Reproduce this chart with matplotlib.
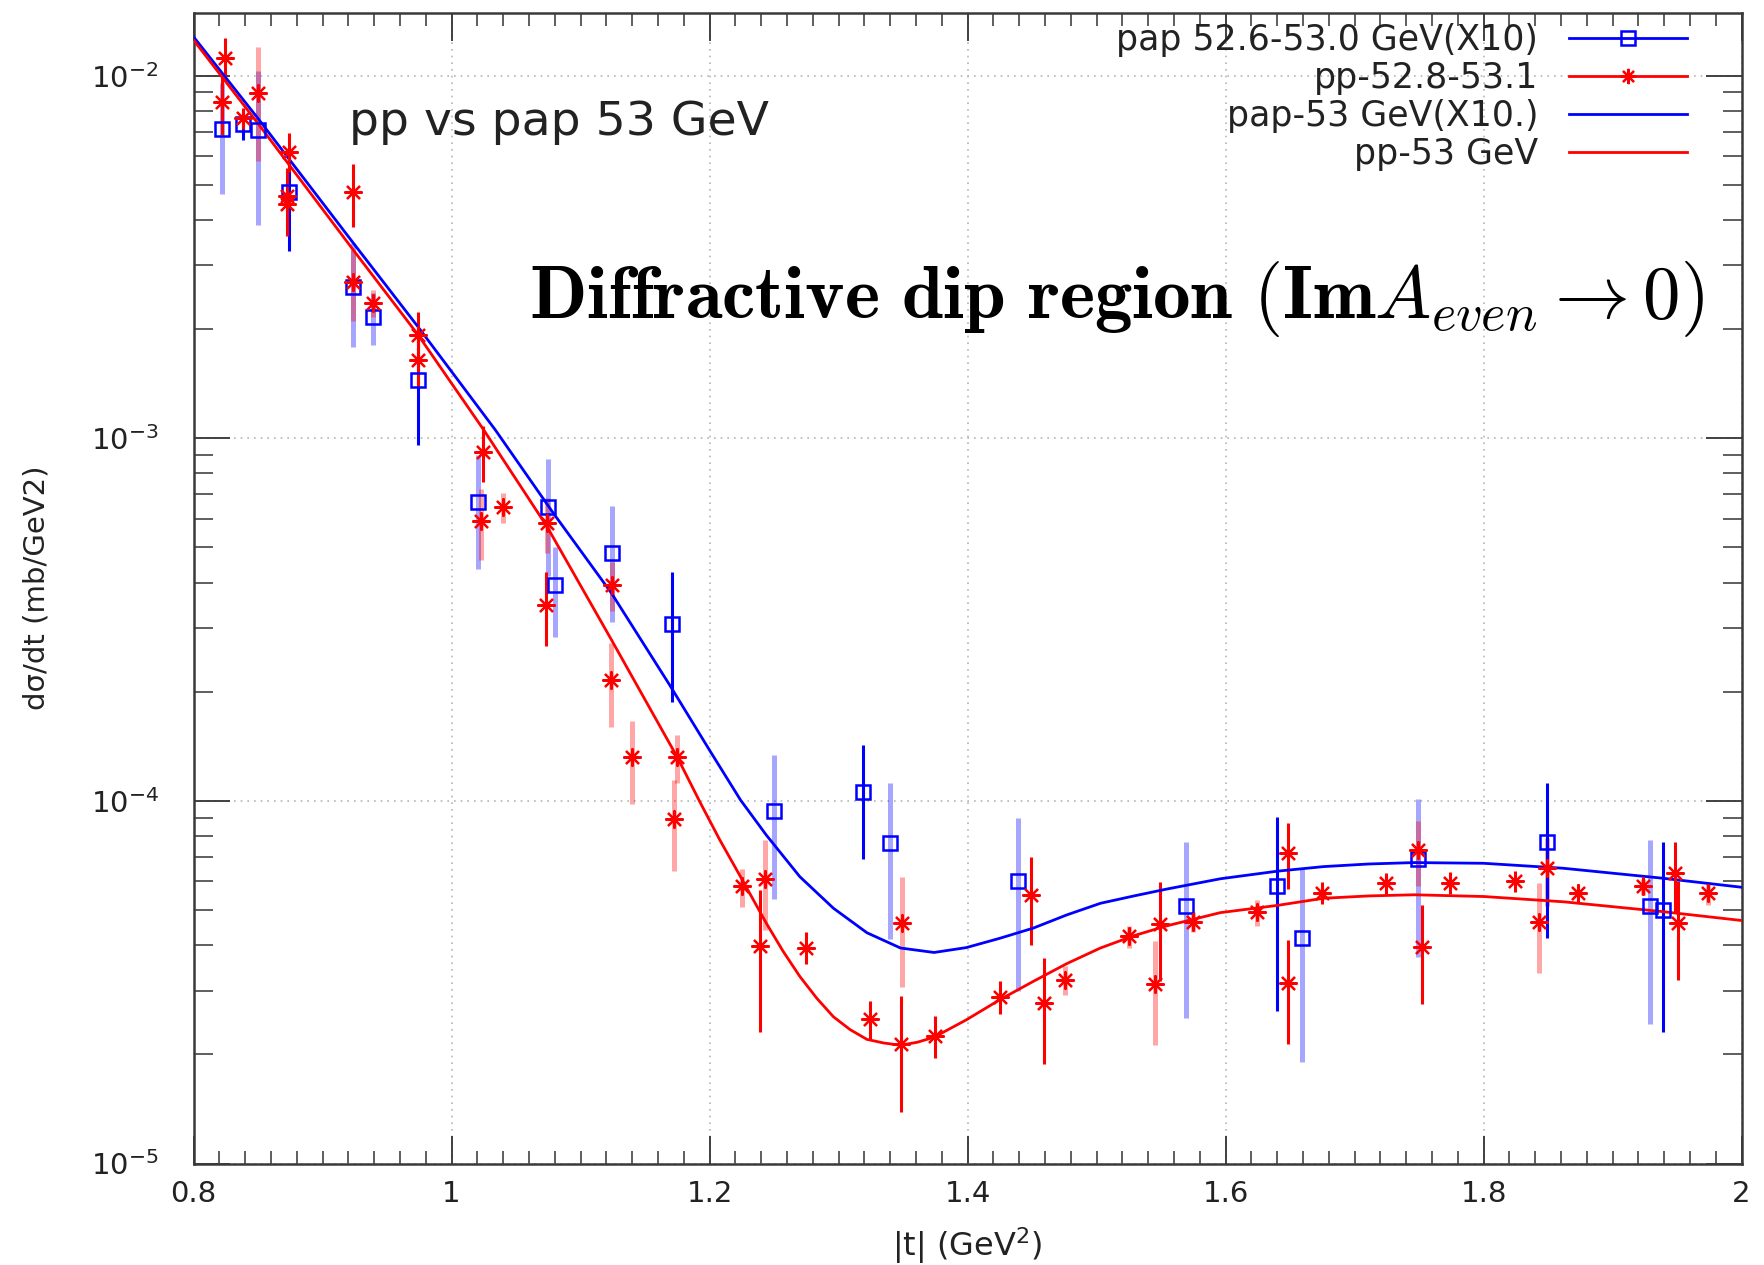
import matplotlib
matplotlib.use("Agg")
import matplotlib.pyplot as plt
from matplotlib.lines import Line2D
from matplotlib.ticker import MultipleLocator, LogLocator, NullFormatter, FuncFormatter

# pap 52.6-53.0 GeV (x10), points drawn with strong error bars
pap_t_a = [0.8386, 0.8743, 0.9738, 1.1707, 1.3192, 1.6397, 1.8495, 1.9394]
pap_y_a = [7.34e-3, 4.79e-3, 1.45e-3, 3.08e-4, 1.06e-4, 5.83e-5, 7.69e-5, 5.00e-5]
pap_e_a = [7.0e-4, 1.5e-3, 4.9e-4, 1.2e-4, 3.7e-5, 3.2e-5, 3.5e-5, 2.7e-5]

# pap points drawn with pale error bars
pap_t_b = [0.8218, 0.8503, 0.9239, 0.9394, 1.0208, 1.0751, 1.0802, 1.1242,
           1.2500, 1.3399, 1.4394, 1.5691, 1.6591, 1.7495, 1.9291]
pap_y_b = [7.13e-3, 7.08e-3, 2.62e-3, 2.16e-3, 6.67e-4, 6.47e-4, 3.93e-4, 4.82e-4,
           9.38e-5, 7.67e-5, 6.00e-5, 5.12e-5, 4.20e-5, 6.92e-5, 5.12e-5]
pap_e_b = [2.4e-3, 3.2e-3, 8.3e-4, 3.5e-4, 2.3e-4, 2.3e-4, 1.1e-4, 1.7e-4,
           4.0e-5, 3.5e-5, 3.0e-5, 2.6e-5, 2.3e-5, 3.2e-5, 2.7e-5]

# pp 52.8-53.1, strong error bars
pp_t_a = [0.8244, 0.8218, 0.8386, 0.8743, 0.8722, 0.8722, 0.9239, 0.9738, 0.9738,
          1.0247, 1.0733, 1.2391, 1.2748, 1.3244, 1.3484, 1.3748, 1.4252, 1.4492,
          1.4596, 1.5492, 1.6487, 1.6487, 1.6746, 1.7242, 1.7521, 1.7740, 1.8244,
          1.8735, 1.9484, 1.9510]
pp_y_a = [1.117e-2, 8.48e-3, 7.62e-3, 6.17e-3, 4.66e-3, 4.42e-3, 4.77e-3, 1.93e-3, 1.64e-3,
          9.18e-4, 3.47e-4, 3.99e-5, 3.94e-5, 2.51e-5, 2.14e-5, 2.25e-5, 2.88e-5, 5.51e-5,
          2.78e-5, 4.58e-5, 7.20e-5, 3.14e-5, 5.59e-5, 5.93e-5, 3.96e-5, 5.95e-5, 6.00e-5,
          5.59e-5, 6.32e-5, 4.60e-5]
pp_e_a = [1.5e-3, 1.6e-3, 5.0e-4, 7.6e-4, 9.0e-4, 8.0e-4, 9.5e-4, 3.0e-4, 2.5e-4,
          1.6e-4, 8.0e-5, 1.68e-5, 4.0e-6, 3.0e-6, 7.5e-6, 3.0e-6, 3.0e-6, 1.5e-5,
          9.0e-6, 1.4e-5, 1.5e-5, 1.0e-5, 4.0e-6, 4.0e-6, 1.2e-5, 4.0e-6, 4.0e-6,
          3.0e-6, 1.4e-5, 1.4e-5]

# pp, pale error bars
pp_t_b = [0.8503, 0.9239, 0.9394, 1.0229, 1.0402, 1.0743, 1.1242, 1.1234, 1.1397,
          1.1750, 1.1725, 1.2250, 1.2430, 1.3495, 1.4756, 1.5252, 1.5453, 1.5746,
          1.6242, 1.7495, 1.8490, 1.8430, 1.9239, 1.9743]
pp_y_b = [8.93e-3, 2.70e-3, 2.36e-3, 5.93e-4, 6.45e-4, 5.83e-4, 3.95e-4, 2.16e-4, 1.32e-4,
          1.32e-4, 8.91e-5, 5.81e-5, 6.10e-5, 4.62e-5, 3.21e-5, 4.23e-5, 3.12e-5, 4.65e-5,
          4.93e-5, 7.32e-5, 6.52e-5, 4.65e-5, 5.81e-5, 5.57e-5]
pp_e_b = [3.1e-3, 6.0e-4, 2.0e-4, 1.3e-4, 6.0e-5, 1.0e-4, 6.0e-5, 5.6e-5, 3.4e-5,
          2.0e-5, 2.5e-5, 7.0e-6, 1.7e-5, 1.55e-5, 3.0e-6, 3.0e-6, 1.0e-5, 3.0e-6,
          4.0e-6, 1.5e-5, 1.4e-5, 1.3e-5, 3.0e-6, 4.0e-6]

# model curves
fit_pap_t = [0.800, 0.850, 0.924, 0.974, 1.034, 1.079, 1.124, 1.169, 1.200, 1.224,
             1.244, 1.270, 1.296, 1.322, 1.348, 1.374, 1.399, 1.425, 1.451, 1.477,
             1.503, 1.529, 1.554, 1.596, 1.640, 1.676, 1.711, 1.746, 1.800, 1.862,
             1.939, 2.000]
fit_pap_y = [1.28e-2, 7.62e-3, 3.45e-3, 2.03e-3, 1.054e-3, 6.21e-4, 3.74e-4, 2.09e-4,
             1.38e-4, 1.006e-4, 8.05e-5, 6.18e-5, 5.06e-5, 4.33e-5, 3.93e-5, 3.82e-5,
             3.94e-5, 4.18e-5, 4.46e-5, 4.85e-5, 5.22e-5, 5.47e-5, 5.71e-5, 6.10e-5,
             6.40e-5, 6.59e-5, 6.70e-5, 6.76e-5, 6.73e-5, 6.52e-5, 6.12e-5, 5.78e-5]
fit_pp_t = [0.800, 0.850, 0.924, 0.974, 1.025, 1.074, 1.124, 1.175, 1.193, 1.208,
            1.224, 1.244, 1.257, 1.270, 1.283, 1.296, 1.309, 1.322, 1.335, 1.348,
            1.361, 1.374, 1.399, 1.425, 1.451, 1.477, 1.503, 1.529, 1.554, 1.596,
            1.640, 1.676, 1.711, 1.746, 1.800, 1.862, 1.939, 2.000]
fit_pp_y = [1.254e-2, 7.38e-3, 3.30e-3, 1.93e-3, 1.054e-3, 5.71e-4, 2.78e-4, 1.32e-4,
            9.86e-5, 7.80e-5, 6.18e-5, 4.60e-5, 3.85e-5, 3.28e-5, 2.86e-5, 2.54e-5,
            2.34e-5, 2.20e-5, 2.15e-5, 2.12e-5, 2.16e-5, 2.23e-5, 2.49e-5, 2.83e-5,
            3.18e-5, 3.56e-5, 3.93e-5, 4.25e-5, 4.52e-5, 4.92e-5, 5.15e-5, 5.39e-5,
            5.47e-5, 5.51e-5, 5.45e-5, 5.27e-5, 4.95e-5, 4.68e-5]

labels = ["pap 52.6-53.0 GeV(X10)", "pp-52.8-53.1", "pap-53 GeV(X10.)", "pp-53 GeV"]

BLUE = "#0000ff"
RED = "#ff0000"
STAR = (8, 2, 0)

fig = plt.figure(figsize=(17.64, 12.65), dpi=100)
ax = fig.add_axes([0.1097, 0.0802, 0.8776, 0.9093])
ax.set_yscale("log")

# error bars: pale ones first, strong ones on top
ax.errorbar(pap_t_b, pap_y_b, yerr=pap_e_b, fmt="none", ecolor=BLUE, elinewidth=3.6, alpha=0.35, zorder=2)
ax.errorbar(pp_t_b, pp_y_b, yerr=pp_e_b, fmt="none", ecolor=RED, elinewidth=3.6, alpha=0.35, zorder=2)
ax.errorbar(pap_t_a, pap_y_a, yerr=pap_e_a, fmt="none", ecolor=BLUE, elinewidth=2.2, zorder=3)
ax.errorbar(pp_t_a, pp_y_a, yerr=pp_e_a, fmt="none", ecolor=RED, elinewidth=2.2, zorder=3)

ax.plot(fit_pap_t, fit_pap_y, color=BLUE, lw=2.0, zorder=4)
ax.plot(fit_pp_t, fit_pp_y, color=RED, lw=2.0, zorder=4)

ax.plot(pap_t_a + pap_t_b, pap_y_a + pap_y_b, ls="none", marker="s", ms=10,
        mfc="none", mec=BLUE, mew=1.8, zorder=5)
ax.plot(pp_t_a + pp_t_b, pp_y_a + pp_y_b, ls="none", marker=STAR, ms=13,
        color=RED, mew=1.6, zorder=5)

ax.set_xlim(0.8, 2.0)
ax.set_ylim(1e-5, 0.01486)

ax.xaxis.set_major_locator(MultipleLocator(0.2))
ax.xaxis.set_minor_locator(MultipleLocator(0.02))
ax.xaxis.set_major_formatter(FuncFormatter(lambda v, p: "%g" % round(v, 3)))
ax.yaxis.set_major_locator(LogLocator(base=10))
ax.yaxis.set_minor_locator(LogLocator(base=10, subs=range(2, 10)))
ax.yaxis.set_minor_formatter(NullFormatter())

ax.tick_params(which="both", direction="in", top=True, right=True,
               colors="#333333", labelcolor="#222222")
ax.tick_params(axis="x", which="major", length=20, width=1.3, labelsize=21, pad=12)
ax.tick_params(axis="x", which="minor", length=9.5, width=1.1)
ax.tick_params(axis="y", which="major", length=26, width=1.3, labelsize=21, pad=25)
ax.tick_params(axis="y", which="minor", length=14, width=1.1)

for s in ax.spines.values():
    s.set_color("#3a3a3a")
    s.set_linewidth(1.8)

ax.grid(which="major", linestyle=(0, (1, 3)), color="#b5b5b5", lw=1.2)

ax.set_xlabel("|t| (GeV$^{2}$)", fontsize=23, color="#222222", va="center")
ax.xaxis.set_label_coords(0.5, -0.0711)
ax.set_ylabel("dσ/dt (mb/GeV2)", fontsize=21, color="#222222", va="center")
ax.yaxis.set_label_coords(-0.1017, 0.501)

ax.text(0.1005, 0.894, "pp vs pap 53 GeV", transform=ax.transAxes, fontsize=34,
        color="#222222", va="baseline")
ax.text(0.2167, 0.735,
        r"$\mathbf{Diffractive\ dip\ region\ (Im}A_{even}\rightarrow 0)$",
        transform=ax.transAxes, fontsize=54, math_fontfamily="cm", va="baseline")

handles = [
    Line2D([], [], color=BLUE, lw=2, marker="s", ms=10, mfc="none", mec=BLUE, mew=1.8),
    Line2D([], [], color=RED, lw=2, marker=STAR, ms=11, mew=1.6),
    Line2D([], [], color=BLUE, lw=2),
    Line2D([], [], color=RED, lw=2),
]
leg = ax.legend(handles, labels, loc="upper right", bbox_to_anchor=(0.965, 0.9916),
                frameon=False, markerfirst=False, fontsize=25, numpoints=1,
                handlelength=3.4, handletextpad=0.9, labelspacing=0.115,
                borderaxespad=0, borderpad=0)
for t in leg.get_texts():
    t.set_color("#222222")

fig.savefig("out.png", dpi=100)
